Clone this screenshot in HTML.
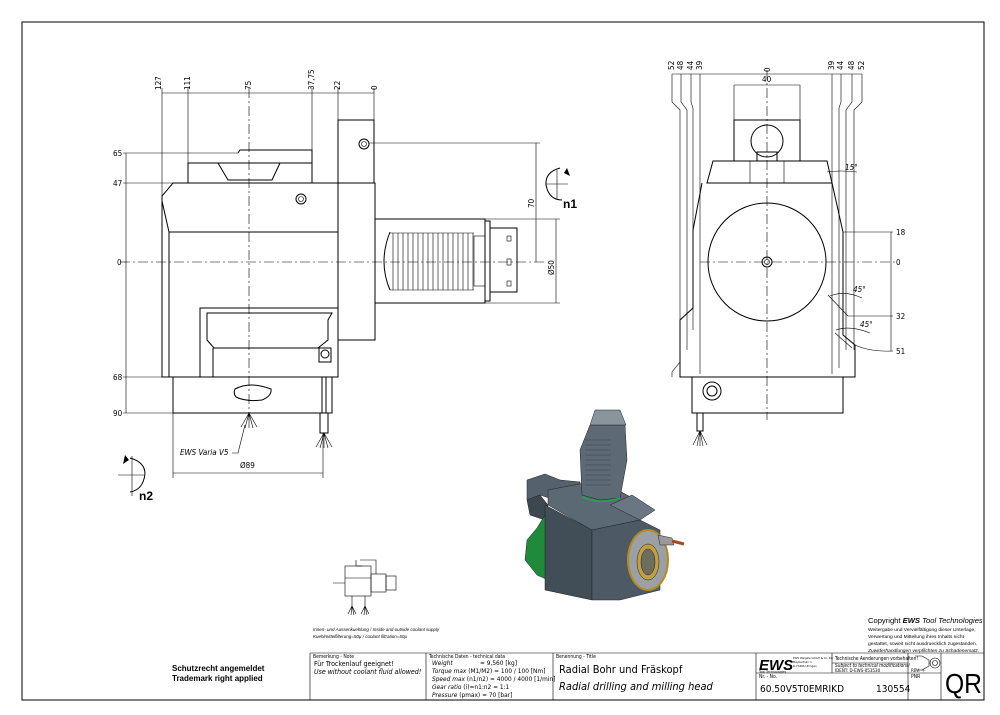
<!DOCTYPE html>
<html><head><meta charset="utf-8"><style>
html,body{margin:0;padding:0;background:#fff;}
svg{display:block;font-family:"Liberation Sans",sans-serif;}
.l{fill:none;stroke:#000;stroke-width:1}
.t{fill:none;stroke:#000;stroke-width:0.6}
.c{fill:none;stroke:#000;stroke-width:0.6;stroke-dasharray:10 3 2 3}
.d{font-family:"DejaVu Sans Condensed","Liberation Sans",sans-serif;font-size:8px}
.s{font-size:5px}
</style></head><body>
<svg width="1000" height="715" viewBox="0 0 1000 715" xmlns="http://www.w3.org/2000/svg">
<rect x="22" y="22" width="962" height="678" class="l"/>

<!-- LEFT VIEW -->
<g>
<line x1="162" y1="93" x2="374" y2="93" class="t"/>
<g class="t"><line x1="162" y1="88" x2="162" y2="377"/><line x1="188" y1="88" x2="188" y2="163"/><line x1="312" y1="88" x2="312" y2="153"/><line x1="338" y1="88" x2="338" y2="120"/><line x1="374" y1="88" x2="374" y2="120"/></g>
<line x1="249" y1="88" x2="249" y2="420" class="c"/>
<g class="d">
<text transform="translate(161,90) rotate(-90)">127</text>
<text transform="translate(190,90) rotate(-90)">111</text>
<text transform="translate(251,90) rotate(-90)">75</text>
<text transform="translate(314,90) rotate(-90)">37,75</text>
<text transform="translate(340,90) rotate(-90)">22</text>
<text transform="translate(377,90) rotate(-90)">0</text>
</g>
<path d="M238,153 L240,150 L312,150 L312,163" class="l"/>
<path d="M188,183 L188,163 L312,163 L312,183" class="l"/>
<path d="M218,163 L228,180 L272,180 L280,163" class="l"/>
<path d="M173,183 L338,183 L338,377 L162,377 L162,196 Z" class="l"/>
<path d="M162,201 L169,232 L338,232 M169,232 L169,377" class="l"/>
<rect x="338" y="120" width="36" height="63" class="l"/>
<rect x="338" y="183" width="37" height="157" class="l"/>
<circle cx="364" cy="144" r="5" class="l"/><circle cx="364" cy="144" r="2.5" class="t"/>
<circle cx="301" cy="199" r="5" class="l"/><circle cx="301" cy="199" r="2.5" class="t"/>
<line x1="369" y1="143" x2="540" y2="143" class="t"/>
<rect x="375" y="219" width="110" height="84" class="l"/>
<path d="M390,232 Q378,262 390,290" class="l"/>
<path d="M390,233 L474,233 M390,290 L474,290" class="t"/>
<g class="t">
<path d="M393,233 v57 M398,233 v57 M403,233 v57 M408,233 v57 M413,233 v57 M418,233 v57 M423,233 v57 M428,233 v57 M433,233 v57 M438,233 v57 M443,233 v57 M448,233 v57 M453,233 v57 M458,233 v57 M463,233 v57 M468,233 v57 M473,233 v57"/>
</g>
<rect x="474" y="236" width="11" height="50" class="t"/>
<rect x="485" y="221" width="5" height="80" class="l"/>
<rect x="490" y="228" width="27" height="64" class="l"/>
<rect x="507" y="236" width="4" height="5" class="t"/><rect x="507" y="259" width="4" height="6" class="t"/><rect x="507" y="281" width="4" height="5" class="t"/>
<line x1="120" y1="262" x2="545" y2="262" class="c"/>
<path d="M200,377 L200,308 L338,308" class="l"/>
<path d="M207,313 L332,313 L328,320 L328,340 L318,348 L214,348 L207,340 Z M213,348 L213,377" class="l"/>
<rect x="319" y="348" width="12" height="14" class="l"/>
<circle cx="325" cy="354" r="4" class="l"/>
<rect x="173" y="377" width="153" height="36" class="l"/>
<path d="M235,389 Q250,381 271,389 Q272,396 262,400 Q246,402 236,397 Q233,393 235,389 Z" class="l"/>
<rect x="322" y="377" width="10" height="36" class="l"/>
<rect x="320" y="413" width="8" height="20" class="l"/>
<g class="t"><path d="M249,413 l-8,14 M249,413 l-4,15 M249,413 l0,15 M249,413 l4,15 M249,413 l8,14"/>
<path d="M324,433 l-8,14 M324,433 l-4,15 M324,433 l0,15 M324,433 l4,15 M324,433 l8,14"/>
<path d="M232,453 L238,453 L245,425" /></g>
<text x="180" y="455" font-size="8.5" font-style="italic" class="d">EWS Varia V5</text>
<line x1="126" y1="153" x2="126" y2="413" class="t"/>
<g class="t"><line x1="123" y1="153" x2="238" y2="153"/><line x1="123" y1="183" x2="173" y2="183"/><line x1="123" y1="377" x2="173" y2="377"/><line x1="123" y1="413" x2="173" y2="413"/></g>
<g class="d"><text x="113" y="156">65</text><text x="113" y="186">47</text><text x="117" y="265">0</text><text x="113" y="380">68</text><text x="113" y="416">90</text></g>
<line x1="173" y1="413" x2="173" y2="478" class="t"/><line x1="323" y1="433" x2="323" y2="478" class="t"/>
<line x1="173" y1="473" x2="323" y2="473" class="t"/>
<text x="240" y="468" class="d">Ø89</text>
<line x1="536" y1="143" x2="536" y2="262" class="t"/>
<line x1="556" y1="219" x2="556" y2="303" class="t"/>
<line x1="485" y1="219" x2="560" y2="219" class="t"/><line x1="485" y1="303" x2="560" y2="303" class="t"/>
<text transform="translate(534,208) rotate(-90)" class="d">70</text>
<text transform="translate(554,275) rotate(-90)" class="d">Ø50</text>
<path d="M560,168 Q545,172 546,185 Q549,200 562,200" class="l"/>
<line x1="546" y1="184" x2="568" y2="184" class="t"/><line x1="557" y1="170" x2="557" y2="200" class="t"/>
<path d="M567,168 l3,8 l-6,-3z" fill="#000"/>
<text x="563" y="208" font-size="12" font-weight="bold">n1</text>
<path d="M130,458 Q145,462 145,474 Q143,490 130,492" class="l"/>
<line x1="118" y1="475" x2="145" y2="475" class="t"/><line x1="132" y1="456" x2="132" y2="496" class="t"/>
<path d="M125,455 l-2,9 l6,-4z" fill="#000"/>
<text x="139" y="500" font-size="12" font-weight="bold">n2</text>
</g>

<!-- RIGHT VIEW -->
<g>
<line x1="672" y1="74" x2="862" y2="74" class="t"/>
<g class="d">
<text transform="translate(674,70) rotate(-90)">52</text><text transform="translate(683,70) rotate(-90)">48</text><text transform="translate(693,70) rotate(-90)">44</text><text transform="translate(702,70) rotate(-90)">39</text>
<text transform="translate(770,72) rotate(-90)">0</text>
<text transform="translate(834,70) rotate(-90)">39</text><text transform="translate(843,70) rotate(-90)">44</text><text transform="translate(854,70) rotate(-90)">48</text><text transform="translate(864,70) rotate(-90)">52</text>
<text x="762" y="82">40</text>
</g>
<g class="t">
<path d="M672,74 v28 l8,8 v252 l-8,10 v5"/>
<path d="M681,74 v28 l6,8 v240"/>
<path d="M691,74 v28 l2,6 v222"/>
<path d="M700,74 v300"/>
<path d="M832,74 v300"/>
<path d="M841,74 v28 l-2,6 v260"/>
<path d="M852,74 v28 l-6,8 v240"/>
<path d="M862,74 v28 l-8,8 v240"/>
</g>
<line x1="734" y1="85" x2="800" y2="85" class="t"/>
<line x1="734" y1="85" x2="734" y2="120" class="t"/><line x1="800" y1="85" x2="800" y2="120" class="t"/>
<line x1="767" y1="70" x2="767" y2="420" class="c"/>
<rect x="734" y="120" width="66" height="41" class="l"/>
<circle cx="767" cy="141" r="16" class="l"/>
<rect x="757" y="152" width="20" height="9" class="l"/>
<path d="M713,161 L827,161 L832,183 L707,183 Z" class="l"/>
<line x1="750" y1="161" x2="750" y2="183" class="t"/><line x1="784" y1="161" x2="784" y2="183" class="t"/>
<path d="M702,183 L693,230 L693,308 L680,320 L680,377 L855,377 L855,345 L843,335 L843,232 L832,183" class="l"/>
<circle cx="767" cy="262" r="59" class="l"/>
<circle cx="767" cy="262" r="5" class="l"/><circle cx="767" cy="262" r="2.5" class="t"/>
<line x1="700" y1="262" x2="895" y2="262" class="c"/>
<rect x="692" y="377" width="151" height="36" class="l"/>
<circle cx="712" cy="391" r="9" class="l"/><circle cx="712" cy="391" r="5" class="l"/>
<rect x="697" y="413" width="6" height="18" class="l"/>
<path class="t" d="M700,431 l-7,14 M700,431 l-3,15 M700,431 l0,15 M700,431 l3,15 M700,431 l7,14"/>
<line x1="891" y1="232" x2="891" y2="351" class="t"/>
<g class="t"><line x1="843" y1="232" x2="893" y2="232"/><line x1="848" y1="316" x2="893" y2="316"/><path d="M855,345 Q870,352 893,351"/><path d="M827,172 Q840,170 857,172"/><path d="M830,296 Q845,290 862,298"/><path d="M836,330 Q850,325 870,333"/><path d="M828,295 L848,316"/><path d="M835,333 L852,348"/></g>
<g class="d"><text x="896" y="235">18</text><text x="896" y="265">0</text><text x="896" y="319">32</text><text x="896" y="354">51</text>
<text x="845" y="170" font-style="italic">15°</text><text x="853" y="292" font-style="italic">45°</text><text x="860" y="327" font-style="italic">45°</text></g>
</g>

<!-- 3D model -->
<g stroke="#222" stroke-width="0.5">
<path d="M527,480 L545,474 L560,480 L580,482 L580,500 L555,500 L540,495 L527,500 Z" fill="#55626d"/>
<path d="M527,500 L540,495 L548,505 L545,520 L530,515 Z" fill="#3c4750"/>
<path d="M548,490 L600,480 L645,505 L640,520 L592,530 L548,505 Z" fill="#5b6974"/>
<path d="M537,528 L545,515 L548,580 L537,575 L525,560 L527,540 Z" fill="#1e8a3a"/>
<path d="M545,505 L592,530 L592,600 L545,590 Z" fill="#414d57"/>
<path d="M592,530 L640,520 L660,530 L660,590 L620,600 L592,600 Z" fill="#4d5a65"/>
<path d="M580,450 L590,425 L625,425 L627,460 L620,498 L600,500 L582,495 Z" fill="#5d6a75"/>
<path d="M590,425 L595,410 L620,410 L626,425 Z" fill="#8a949c"/>
<path d="M582,497 Q600,505 620,498" fill="none" stroke="#1faa44" stroke-width="1.5"/>
<g stroke="#3a4650" stroke-width="0.6"><path d="M585,440 h26 M585,445 h26 M585,450 h26 M585,455 h26 M585,460 h26 M585,465 h26 M585,470 h26 M585,475 h26 M585,480 h26 M585,485 h26"/></g>
<path d="M610,505 L640,520 L655,510 L632,495 Z" fill="#6a7782"/>
<ellipse cx="648" cy="560" rx="20" ry="30" fill="#9aa0a3" stroke="#b58a1e" stroke-width="2"/>
<ellipse cx="648" cy="562" rx="11" ry="18" fill="#c0a040"/>
<ellipse cx="648" cy="562" rx="7" ry="13" fill="#6d6d60"/>
<path d="M658,535 L672,538 L674,545 L660,545 Z" fill="#999"/>
<line x1="672" y1="541" x2="684" y2="544" stroke="#a54b1f" stroke-width="3"/>
</g>

<!-- small coolant diagram -->
<g class="t">
<rect x="345" y="566" width="26" height="30"/>
<rect x="371" y="574" width="15" height="18"/>
<rect x="386" y="576" width="10" height="14"/>
<path d="M345,578 L371,578 M356,560 L356,566 L362,566 M360,560 L376,560 L376,574 M333,583 L345,583 M352,596 v10 M365,596 v10"/>
<path d="M352,606 l-4,8 M352,606 l-1,9 M352,606 l2,9 M352,606 l4,8 M365,606 l-4,8 M365,606 l-1,9 M365,606 l2,9 M365,606 l4,8"/>
</g>
<text x="313" y="631" font-size="4.5" font-style="italic">Innen- und Aussenkuehlung / Inside and outside coolant supply</text>
<text x="313" y="638" font-size="4.5" font-style="italic">Kuehlmittelfilterung=50µ / coolant filtration=50µ</text>

<!-- copyright -->
<text x="868" y="623" font-size="7.6">Copyright <tspan font-weight="bold" font-style="italic">EWS</tspan> <tspan font-style="italic">Tool Technologies</tspan></text>
<g font-size="4.9"><text x="868" y="631">Weitergabe und Vervielfältigung dieser Unterlage,</text><text x="868" y="638">Verwertung und Mitteilung ihres Inhalts nicht</text><text x="868" y="645">gestattet, soweit nicht ausdruecklich zugestanden.</text><text x="868" y="652" font-style="italic">Zuwiderhandlungen verpflichten zu Schadenersatz.</text></g>

<!-- title block -->
<g class="t">
<path d="M310,653 L984,653 M310,653 L310,700 M426,653 L426,700 M553,653 L553,700 M756,653 L756,700 M832,653 L832,673 M908,653 L908,700 M941,653 L941,700 M756,673 L941,673 M832,663 L908,663"/>
</g>
<g class="d">
<text x="313" y="658" class="s">Bemerkung - Note</text>
<text x="429" y="658" class="s">Technische Daten - technical data</text>
<text x="556" y="658" class="s">Benennung - Title</text>
<text x="314" y="666" font-size="7">Für Trockenlauf geeignet!</text>
<text x="314" y="674" font-size="7" font-style="italic">Use without coolant fluid allowed!</text>
<text x="432" y="665" font-size="6.5" font-style="italic">Weight</text><text x="480" y="665" font-size="6.5">=  9,560 [kg]</text>
<text x="432" y="673" font-size="6.5"><tspan font-style="italic">Torque max</tspan> (M1/M2) =  100 / 100 [Nm]</text>
<text x="432" y="681" font-size="6.5"><tspan font-style="italic">Speed max</tspan>  (n1/n2) =  4000 / 4000 [1/min]</text>
<text x="432" y="689" font-size="6.5"><tspan font-style="italic">Gear ratio</tspan>  (i)=n1:n2 =  1:1</text>
<text x="432" y="697" font-size="6.5"><tspan font-style="italic">Pressure</tspan>    (pmax)  =  70 [bar]</text>
<text x="559" y="673" font-size="11">Radial Bohr und Fräskopf</text>
<text x="559" y="690" font-size="11" font-style="italic">Radial drilling and milling head</text>
<text x="759" y="670" font-size="15" font-weight="bold" font-style="italic" font-family="Liberation Sans">EWS</text>
<text x="759" y="673" font-size="3.5">Tool Technologies</text>
<text x="793" y="659" font-size="3">EWS Weigele GmbH &amp; Co. KG</text>
<text x="793" y="663" font-size="3">Maybachstr. 1</text>
<text x="793" y="667" font-size="3">D-73466 Uhingen</text>
<text x="835" y="660" font-size="4.8">Technische Aenderungen vorbehalten!</text>
<text x="835" y="667" font-size="4.8" font-style="italic">Subject to technical modifications!</text>
<text x="835" y="672" font-size="4.5">IDENT:  D-EWS-053530</text>
<text x="911" y="672" font-size="4.5">REV:  -/-</text>
<text x="759" y="678" class="s">Nr. - No.</text>
<text x="911" y="678" class="s">PNR</text>
<text x="760" y="692" font-size="10">60.50V5T0EMRIKD</text>
<text x="876" y="692" font-size="10">130554</text>
</g>
<text x="945" y="693" font-size="28" textLength="37" lengthAdjust="spacingAndGlyphs">QR</text>
<path d="M915,656 L922,656 L929,660 L929,666 L922,670 L915,670" class="t"/>
<circle cx="935" cy="663" r="5" class="t"/><circle cx="935" cy="663" r="2.5" class="t"/>

<text x="172" y="671" font-size="8" font-weight="bold">Schutzrecht angemeldet</text>
<text x="172" y="681" font-size="8" font-weight="bold">Trademark right applied</text>
</svg>
</body></html>
